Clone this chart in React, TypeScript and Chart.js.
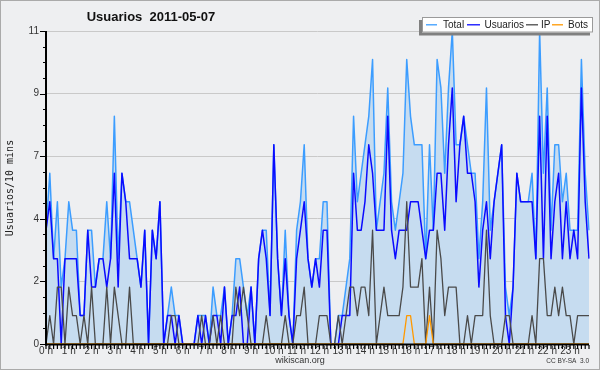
import React, { useEffect, useRef } from 'react';
import { Chart, registerables } from 'chart.js';

Chart.register(...registerables);

// ---- data (one value per 10-minute slot, 144 slots) ----
const TOTAL = [
  4, 6, 3, 5, 2, 3, 5, 4, 4, 1, 1, 4,
  4, 2, 3, 3, 5, 3, 8, 3, 6, 5, 5, 4,
  3, 2, 4, 0, 4, 3, 5, 0, 1, 2, 1, 1,
  0, 0, 0, 0, 1, 1, 1, 0, 2, 1, 1, 2,
  0, 1, 3, 3, 2, 1, 2, 0, 3, 4, 4, 1,
  7, 3, 1, 4, 1, 0, 4, 5, 7, 3, 2, 3,
  3, 5, 5, 0, 0, 1, 1, 2, 3, 8, 5, 6,
  7, 8, 10, 4, 5, 6, 9, 5, 4, 5, 6, 10,
  8, 7, 7, 7, 3, 7, 4, 10, 9, 6, 9, 11,
  7, 7, 8, 7, 6, 6, 3, 5, 9, 4, 5, 6,
  7, 2, 1, 2, 6, 5, 5, 5, 6, 3, 11, 6,
  9, 4, 7, 7, 5, 6, 4, 4, 4, 10, 6, 4,
];
const USUARIOS = [
  4, 5, 3, 3, 0, 3, 3, 3, 3, 1, 1, 4,
  2, 2, 3, 3, 2, 3, 6, 2, 6, 5, 3, 3,
  3, 2, 4, 0, 4, 3, 5, 0, 1, 1, 0, 1,
  0, 0, 0, 0, 1, 0, 1, 0, 1, 1, 0, 2,
  0, 1, 1, 2, 0, 0, 2, 0, 3, 4, 3, 1,
  7, 3, 1, 3, 1, 0, 3, 4, 5, 3, 2, 3,
  2, 4, 4, 0, 0, 0, 1, 1, 1, 6, 4, 4,
  5, 7, 6, 4, 4, 4, 8, 4, 3, 4, 4, 4,
  5, 5, 5, 4, 3, 4, 4, 6, 6, 4, 7, 9,
  5, 7, 8, 6, 6, 5, 2, 4, 5, 3, 5, 6,
  7, 1, 0, 2, 6, 5, 5, 5, 5, 3, 8, 3,
  8, 3, 5, 6, 3, 5, 3, 4, 3, 9, 5, 3,
];
const IP = [
  0, 1, 0, 2, 2, 0, 2, 1, 1, 0, 1, 0,
  2, 0, 0, 0, 2, 0, 2, 1, 0, 0, 2, 0,
  0, 0, 0, 0, 0, 0, 0, 0, 0, 1, 1, 0,
  0, 0, 0, 0, 0, 1, 0, 0, 1, 0, 1, 0,
  0, 0, 2, 1, 2, 1, 0, 0, 0, 0, 1, 0,
  0, 0, 0, 1, 0, 0, 1, 1, 2, 0, 0, 0,
  1, 1, 1, 0, 0, 1, 0, 1, 2, 2, 1, 2,
  2, 1, 4, 0, 1, 2, 1, 1, 1, 1, 2, 5,
  2, 2, 2, 3, 0, 2, 0, 4, 3, 1, 2, 2,
  2, 0, 0, 1, 0, 1, 1, 1, 4, 1, 0, 0,
  0, 1, 1, 0, 0, 0, 0, 0, 1, 0, 3, 3,
  1, 1, 2, 1, 2, 1, 1, 0, 1, 1, 1, 1,
];
const BOTS = [
  0, 0, 0, 0, 0, 0, 0, 0, 0, 0, 0, 0,
  0, 0, 0, 0, 0, 0, 0, 0, 0, 0, 0, 0,
  0, 0, 0, 0, 0, 0, 0, 0, 0, 0, 0, 0,
  0, 0, 0, 0, 0, 0, 0, 0, 0, 0, 0, 0,
  0, 0, 0, 0, 0, 0, 0, 0, 0, 0, 0, 0,
  0, 0, 0, 0, 0, 0, 0, 0, 0, 0, 0, 0,
  0, 0, 0, 0, 0, 0, 0, 0, 0, 0, 0, 0,
  0, 0, 0, 0, 0, 0, 0, 0, 0, 0, 0, 1,
  1, 0, 0, 0, 0, 1, 0, 0, 0, 0, 0, 0,
  0, 0, 0, 0, 0, 0, 0, 0, 0, 0, 0, 0,
  0, 0, 0, 0, 0, 0, 0, 0, 0, 0, 0, 0,
  0, 0, 0, 0, 0, 0, 0, 0, 0, 0, 0, 0,
];

const HOUR_LABELS = [
  '0 h', '1 h', '2 h', '3 h', '4 h', '5 h', '6 h', '7 h', '8 h', '9 h', '10 h', '11 h',
  '12 h', '13 h', '14 h', '15 h', '16 h', '17 h', '18 h', '19 h', '20 h', '21 h', '22 h', '23 h',
];
const MINUTES = ['00', '10', '20', '30', '40', '50'];
const SLOTS = HOUR_LABELS.flatMap((h, hi) => MINUTES.map((m) => `${hi}:${m}`));

const Y_MAJOR = [0, 2.2, 4.4, 6.6, 8.8, 11];
const Y_MAJOR_LABELS = ['0', '2', '4', '7', '9', '11'];
const Y_MAX = 11;

const TITLE = 'Usuarios  2011-05-07';
const Y_TITLE = 'Usuarios/10 mins';
const LEGEND = ['Total', 'Usuarios', 'IP', 'Bots'];
const FOOTER = 'wikiscan.org';
const LICENSE = 'CC BY-SA  3.0';

const BG = '#eeeff1';
const C_TOTAL = '#3c9dff';
const C_FILL = 'rgb(198,220,240)';
const C_USERS = '#0a0aff';
const C_IP = '#4a4a4a';
const C_BOTS = '#ff9900';

const decor = {
  id: 'decor',
  beforeDraw(chart: any) {
    const c = chart.ctx;
    c.save();
    c.fillStyle = BG;
    c.fillRect(0, 0, chart.width, chart.height);
    c.restore();
  },
  afterDraw(chart: any) {
    const c = chart.ctx;
    const xs = chart.scales.x;
    const ys = chart.scales.y;
    const a = chart.chartArea;
    c.save();
    // axis lines
    c.fillStyle = '#000';
    c.fillRect(a.left - 1, a.top, 2, a.bottom - a.top + 1.5);
    c.fillRect(a.left - 1, a.bottom - 0.5, a.right - a.left + 1, 2);
    // x minor ticks (every slot)
    c.strokeStyle = '#000';
    c.lineWidth = 1.2;
    for (let i = 0; i < SLOTS.length; i++) {
      const px = xs.getPixelForValue(i);
      c.beginPath();
      c.moveTo(px, a.bottom + 1);
      c.lineTo(px, a.bottom + 5);
      c.stroke();
    }
    // y ticks (major + 3 minor between)
    c.lineWidth = 1;
    for (let k = 0; k < Y_MAJOR.length; k++) {
      const py = Math.round(ys.getPixelForValue(Y_MAJOR[k])) + 0.5;
      c.beginPath();
      c.moveTo(a.left - 6, py);
      c.lineTo(a.left, py);
      c.stroke();
      if (k < Y_MAJOR.length - 1) {
        const step = (Y_MAJOR[k + 1] - Y_MAJOR[k]) / 4;
        for (let m = 1; m < 4; m++) {
          const pm = Math.round(ys.getPixelForValue(Y_MAJOR[k] + step * m)) + 0.5;
          c.beginPath();
          c.moveTo(a.left - 3, pm);
          c.lineTo(a.left, pm);
          c.stroke();
        }
      }
    }
    // title
    c.fillStyle = '#111';
    c.font = 'bold 13px "Liberation Sans", Arial, sans-serif';
    c.textAlign = 'center';
    c.textBaseline = 'middle';
    c.fillText(TITLE, 151, 17);
    // y title
    c.save();
    c.translate(10, 188);
    c.rotate(-Math.PI / 2);
    c.font = '10px "DejaVu Sans Mono", monospace';
    c.fillStyle = '#222';
    c.textAlign = 'center';
    c.textBaseline = 'middle';
    c.fillText(Y_TITLE, 0, 0);
    c.restore();
    // footer
    c.fillStyle = '#333';
    c.font = '9px "Liberation Sans", Arial, sans-serif';
    c.textAlign = 'center';
    c.textBaseline = 'middle';
    c.fillText(FOOTER, 300, 361);
    c.font = '6.5px "Liberation Sans", Arial, sans-serif';
    c.textAlign = 'right';
    c.fillText(LICENSE, 589, 361.5);
    // legend
    const lx = 422, ly = 17, lw = 171, lh = 15.5;
    c.fillStyle = '#808080';
    c.fillRect(lx - 3, ly + 3, lw, lh);
    c.fillStyle = '#ffffff';
    c.fillRect(lx, ly, lw, lh);
    c.strokeStyle = '#9a9a9a';
    c.lineWidth = 1;
    c.strokeRect(lx + 0.5, ly + 0.5, lw - 1, lh - 1);
    const colors = [C_TOTAL, C_USERS, C_IP, C_BOTS];
    const lineX = [[426, 437], [467, 480], [526, 538], [552, 563]];
    const textX = [443, 484.5, 541, 568];
    c.font = '10px "Liberation Sans", Arial, sans-serif';
    c.textAlign = 'left';
    c.textBaseline = 'middle';
    const yMid = 24.8;
    for (let i = 0; i < LEGEND.length; i++) {
      c.strokeStyle = colors[i];
      c.lineWidth = 1.3;
      c.beginPath();
      c.moveTo(lineX[i][0], yMid);
      c.lineTo(lineX[i][1], yMid);
      c.stroke();
      c.fillStyle = '#222';
      c.fillText(LEGEND[i], textX[i], yMid + 0.5);
    }
    // outer border
    c.strokeStyle = '#aaaaaa';
    c.lineWidth = 2;
    c.strokeRect(0, 0, chart.width, chart.height);
    c.restore();
  },
};

export default function App() {
  const ref = useRef<HTMLCanvasElement | null>(null);
  useEffect(() => {
    if (!ref.current) return;
    const mk = (label: string, data: number[], color: string, width: number, order: number, extra: any = {}) => ({
      label,
      data,
      borderColor: color,
      borderWidth: width,
      pointRadius: 0,
      pointHoverRadius: 0,
      tension: 0,
      fill: false,
      borderJoinStyle: 'round',
      order,
      ...extra,
    });
    const chart = new Chart(ref.current, {
      type: 'line',
      data: {
        labels: SLOTS,
        datasets: [
          mk('Total', TOTAL, C_TOTAL, 1.5, 4, { fill: 'origin', backgroundColor: C_FILL }),
          mk('Usuarios', USUARIOS, C_USERS, 1.5, 3),
          mk('IP', IP, C_IP, 1.3, 2),
          mk('Bots', BOTS, C_BOTS, 1.3, 1),
        ] as any,
      },
      options: {
        responsive: false,
        animation: false,
        devicePixelRatio: 1,
        layout: { padding: { left: 0, right: 11, top: 31, bottom: 0 } },
        plugins: {
          legend: { display: false },
          title: { display: false },
          tooltip: { enabled: false },
        },
        events: [],
        scales: {
          x: {
            type: 'category',
            offset: false,
            afterBuildTicks: (scale: any) => {
              scale.ticks = HOUR_LABELS.map((_, h) => ({ value: h * MINUTES.length }));
            },
            afterFit: (scale: any) => {
              scale.height = 26;
            },
            ticks: {
              autoSkip: false,
              maxRotation: 0,
              minRotation: 0,
              padding: 1,
              color: '#333',
              font: { family: '"Liberation Sans", Arial, sans-serif', size: 10 },
              callback: (_v: any, i: number) => HOUR_LABELS[i],
            },
            grid: { display: true, drawOnChartArea: false, drawTicks: false },
            border: { display: false },
          },
          y: {
            type: 'linear',
            min: 0,
            max: Y_MAX,
            afterBuildTicks: (scale: any) => {
              scale.ticks = Y_MAJOR.map((v) => ({ value: v }));
            },
            afterFit: (scale: any) => {
              scale.width = 46;
            },
            ticks: {
              padding: 7,
              color: '#333',
              font: { family: '"Liberation Sans", Arial, sans-serif', size: 10 },
              callback: (_v: any, i: number) => Y_MAJOR_LABELS[i],
            },
            grid: {
              drawTicks: false,
              lineWidth: 1,
              color: (ctx: any) => (ctx.index > 0 ? '#c9c9c9' : 'rgba(0,0,0,0)'),
            },
            border: { display: false },
          },
        },
      },
      plugins: [decor],
    });
    return () => chart.destroy();
  }, []);
  return (
    <div style={{ position: 'absolute', left: 0, top: 0, width: 600, height: 370 }}>
      <canvas ref={ref} width={600} height={370} style={{ display: 'block', width: 600, height: 370 }} />
    </div>
  );
}
